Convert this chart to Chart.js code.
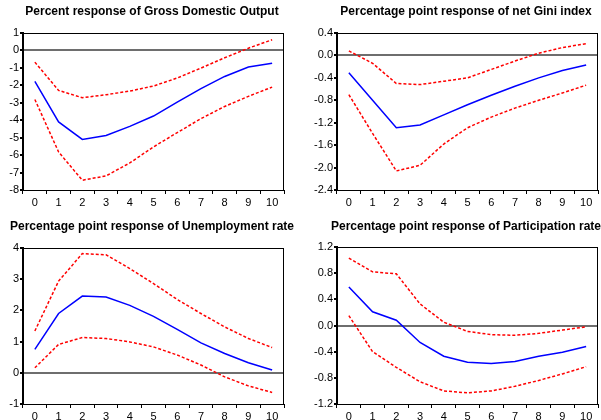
<!DOCTYPE html>
<html lang="en">
<head>
    <meta charset="UTF-8">
    <title>Impulse responses</title>
    <script src="https://cdn.jsdelivr.net/npm/chart.js"></script>
    <style>
        body { margin: 0; background: #fff; }
        .panel { position: absolute; }
    </style>
</head>
<body>
    <div class="panel" style="left:0; top:0;"><canvas id="gdp" width="300" height="210"></canvas></div>
    <div class="panel" style="left:300px; top:0;"><canvas id="gini" width="301" height="210"></canvas></div>
    <div class="panel" style="left:0; top:210px;"><canvas id="unemp" width="300" height="210"></canvas></div>
    <div class="panel" style="left:300px; top:210px;"><canvas id="part" width="301" height="210"></canvas></div>

    <script>
        // horizon (categories on x axis)
        const horizon = ['0', '1', '2', '3', '4', '5', '6', '7', '8', '9', '10'];

        // Gross Domestic Output
        const gdpResp  = [-1.77, -4.10, -5.10, -4.87, -4.35, -3.76, -2.96, -2.19, -1.49, -0.95, -0.73];
        const gdpUpper = [-0.67, -2.29, -2.71, -2.54, -2.33, -2.04, -1.58, -1.01, -0.42, 0.13, 0.61];
        const gdpLower = [-2.81, -5.82, -7.44, -7.19, -6.45, -5.53, -4.71, -3.91, -3.21, -2.63, -2.10];

        // net Gini index
        const giniResp  = [-0.31, -0.80, -1.29, -1.24, -1.06, -0.88, -0.71, -0.55, -0.40, -0.27, -0.17];
        const giniUpper = [0.08, -0.14, -0.50, -0.52, -0.46, -0.40, -0.25, -0.10, 0.04, 0.14, 0.21];
        const giniLower = [-0.70, -1.39, -2.06, -1.96, -1.58, -1.29, -1.10, -0.94, -0.80, -0.67, -0.53];

        // Unemployment rate
        const unempResp  = [0.75, 1.90, 2.46, 2.43, 2.16, 1.81, 1.39, 0.96, 0.62, 0.32, 0.09];
        const unempUpper = [1.34, 2.94, 3.82, 3.78, 3.34, 2.86, 2.35, 1.90, 1.47, 1.10, 0.81];
        const unempLower = [0.16, 0.91, 1.13, 1.10, 0.99, 0.83, 0.57, 0.25, -0.13, -0.42, -0.63];

        // Participation rate
        const partResp  = [0.59, 0.21, 0.08, -0.26, -0.47, -0.56, -0.58, -0.55, -0.47, -0.41, -0.32];
        const partUpper = [1.03, 0.82, 0.79, 0.33, 0.05, -0.09, -0.14, -0.15, -0.12, -0.07, -0.02];
        const partLower = [0.15, -0.40, -0.64, -0.86, -1.00, -1.03, -1.00, -0.93, -0.84, -0.74, -0.63];

        // y axis ranges / steps
        const gdpAxis   = { min: -8, max: 1, step: 1, dec: 0 };
        const giniAxis  = { min: -2.4, max: 0.4, step: 0.4, dec: 1 };
        const unempAxis = { min: -1, max: 4, step: 1, dec: 0 };
        const partAxis  = { min: -1.2, max: 1.2, step: 0.4, dec: 1 };

        const FONT = 'Arial, "Liberation Sans", sans-serif';

        // рамка и заголовок над областью графика
        const framePlugin = {
            id: 'frame',
            afterDraw(chart, args, opts) {
                const a = chart.chartArea, c = chart.ctx;
                c.save();
                c.strokeStyle = '#000';
                c.lineWidth = 1;
                c.strokeRect(a.left + 0.5, a.top + 0.5, a.right - a.left - 1, a.bottom - a.top);
                c.lineWidth = 2;
                c.beginPath();
                c.moveTo(a.left, a.top);
                c.lineTo(a.left, a.bottom + 1);
                c.stroke();
                c.fillStyle = '#000';
                c.font = 'bold 12px ' + FONT;
                c.textAlign = 'center';
                c.textBaseline = 'middle';
                c.fillText(opts.text, (a.left + a.right) / 2 - 1.5, opts.y);
                c.restore();
            }
        };

        function drawPanel(id, title, titleY, resp, upper, lower, ax, box) {
            const ctx = document.getElementById(id).getContext('2d');
            const W = ctx.canvas.width, H = ctx.canvas.height;
            const dashed = (d) => ({
                data: d,
                borderColor: '#ff0000',
                borderWidth: 1.5,
                borderDash: [3, 2],
                pointRadius: 0,
                fill: false,
                tension: 0
            });
            return new Chart(ctx, {
                type: 'line',
                data: {
                    labels: horizon,
                    datasets: [
                        dashed(upper),
                        dashed(lower),
                        { data: resp, borderColor: '#0000ff', borderWidth: 1.5, pointRadius: 0, fill: false, tension: 0 }
                    ]
                },
                plugins: [framePlugin],
                options: {
                    responsive: false,
                    animation: false,
                    layout: { padding: { left: 0, top: box.top, right: W - box.right, bottom: 0 } },
                    plugins: {
                        legend: { display: false },
                        title: { display: false },
                        tooltip: { enabled: false },
                        frame: { text: title, y: titleY }
                    },
                    scales: {
                        x: {
                            offset: true,
                            border: { display: true, color: '#000', width: 1 },
                            grid: { offset: true, drawOnChartArea: false, drawTicks: true, tickLength: 4, tickColor: '#000' },
                            ticks: { color: '#000', font: { family: FONT, size: 11 }, padding: 2, maxRotation: 0, autoSkip: false },
                            afterFit(s) { s.height = H - box.bottom; }
                        },
                        y: {
                            min: ax.min,
                            max: ax.max,
                            border: { display: true, color: '#000', width: 2 },
                            grid: {
                                drawTicks: true,
                                tickLength: 3,
                                tickColor: '#000',
                                lineWidth: 2,
                                color: (c) => (c.tick && Math.abs(c.tick.value) < 1e-9) ? '#6e6e6e' : 'rgba(0,0,0,0)'
                            },
                            ticks: {
                                stepSize: ax.step,
                                color: '#000',
                                padding: 1,
                                font: { family: FONT, size: 11 },
                                callback: (v) => Number(v).toFixed(ax.dec)
                            },
                            afterFit(s) { s.width = box.left; }
                        }
                    }
                }
            });
        }

        drawPanel('gdp', 'Percent response of Gross Domestic Output', 12,
            gdpResp, gdpUpper, gdpLower, gdpAxis, { left: 23, right: 284, top: 33, bottom: 190 });
        drawPanel('gini', 'Percentage point response of net Gini index', 12,
            giniResp, giniUpper, giniLower, giniAxis, { left: 37, right: 298, top: 33, bottom: 190 });
        drawPanel('unemp', 'Percentage point response of Unemployment rate', 17,
            unempResp, unempUpper, unempLower, unempAxis, { left: 23, right: 284, top: 38, bottom: 194 });
        drawPanel('part', 'Percentage point response of Participation rate', 17,
            partResp, partUpper, partLower, partAxis, { left: 37, right: 298, top: 37, bottom: 194 });
    </script>
</body>
</html>
